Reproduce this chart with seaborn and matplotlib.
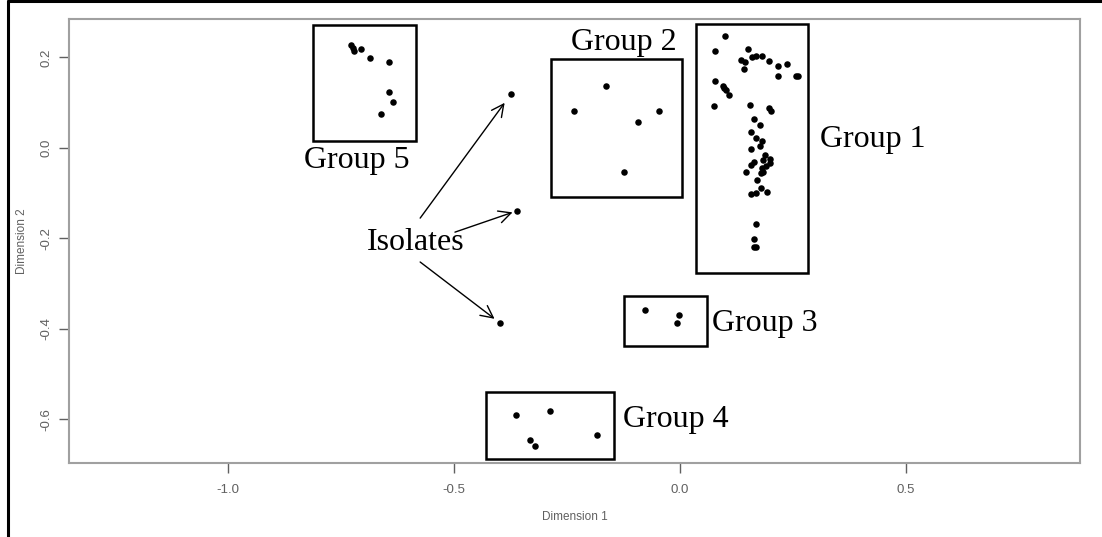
import matplotlib
matplotlib.use("Agg")
import matplotlib.pyplot as plt
import seaborn as sns
import pandas as pd
from matplotlib.patches import Rectangle
from matplotlib.lines import Line2D

# ---- data ----
group1_x = [0.100, 0.078, 0.150, 0.134, 0.144, 0.142, 0.160, 0.167, 0.181, 0.197,
            0.217, 0.236, 0.217, 0.256, 0.260, 0.077, 0.094, 0.098, 0.101, 0.108,
            0.075, 0.155, 0.197, 0.201, 0.163, 0.177, 0.156, 0.167, 0.182, 0.177,
            0.158, 0.187, 0.199, 0.183, 0.164, 0.158, 0.198, 0.190, 0.181, 0.184,
            0.179, 0.146, 0.170, 0.179, 0.156, 0.167, 0.192, 0.169, 0.164, 0.164,
            0.169]
group1_y = [0.248, 0.215, 0.219, 0.194, 0.189, 0.175, 0.201, 0.203, 0.203, 0.192,
            0.181, 0.186, 0.160, 0.158, 0.158, 0.147, 0.137, 0.133, 0.127, 0.116,
            0.092, 0.095, 0.088, 0.081, 0.063, 0.051, 0.036, 0.022, 0.015, 0.005,
            -0.002, -0.015, -0.024, -0.027, -0.030, -0.038, -0.034, -0.039, -0.044, -0.052,
            -0.056, -0.054, -0.071, -0.089, -0.101, -0.100, -0.098, -0.169, -0.201, -0.218,
            -0.218]
group2_x = [-0.163, -0.235, -0.046, -0.094, -0.125]
group2_y = [0.138, 0.082, 0.082, 0.058, -0.052]
group3_x = [-0.077, -0.002, -0.006]
group3_y = [-0.359, -0.370, -0.386]
group4_x = [-0.363, -0.288, -0.332, -0.320, -0.184]
group4_y = [-0.589, -0.581, -0.645, -0.658, -0.635]
group5_x = [-0.727, -0.724, -0.722, -0.706, -0.687, -0.644, -0.644, -0.636, -0.662]
group5_y = [0.228, 0.220, 0.215, 0.219, 0.199, 0.191, 0.123, 0.102, 0.075]
isolate_x = [-0.374, -0.361, -0.398]
isolate_y = [0.119, -0.139, -0.387]

group_names = ["Group 1", "Group 2", "Group 3", "Group 4", "Group 5"]
# box extents: (x0, x1, y0, y1)
group_boxes = [(0.035, 0.284, -0.277, 0.274),
               (-0.285, 0.004, -0.108, 0.196),
               (-0.123, 0.060, -0.438, -0.327),
               (-0.429, -0.145, -0.688, -0.540),
               (-0.813, -0.584, 0.015, 0.272)]
label_pos = [(0.427, 0.018), (-0.124, 0.232), (0.188, -0.387),
             (-0.009, -0.601), (-0.715, -0.027)]
isolates_label = (-0.584, -0.208)
arrow_starts = [(-0.575, -0.155), (-0.498, -0.186), (-0.575, -0.252)]

x_ticks = [-1.0, -0.5, 0.0, 0.5]
y_ticks = [-0.6, -0.4, -0.2, 0.0, 0.2]

# ---- build table ----
frames = []
for name, xs, ys in [("Group 1", group1_x, group1_y), ("Group 2", group2_x, group2_y),
                     ("Group 3", group3_x, group3_y), ("Group 4", group4_x, group4_y),
                     ("Group 5", group5_x, group5_y), ("Isolate", isolate_x, isolate_y)]:
    frames.append(pd.DataFrame({"d1": xs, "d2": ys, "group": name}))
df = pd.concat(frames, ignore_index=True)

sns.set_theme(style="white")
plt.rcParams["font.family"] = ["Liberation Sans", "DejaVu Sans"]

W, H = 1102, 537
fig = plt.figure(figsize=(W / 100, H / 100), dpi=100)
fig.patch.set_facecolor("white")
ax = fig.add_axes([69 / W, (H - 462.7) / H, (1080 - 69) / W, (462.7 - 19) / H])

sns.scatterplot(data=df, x="d1", y="d2", color="black", s=22, linewidth=0,
                ax=ax, legend=False)

ax.set_xlim(-1.352, 0.885)
ax.set_ylim(-0.6955, 0.285)
ax.set_xticks(x_ticks)
ax.set_xticklabels([f"{t:.1f}" for t in x_ticks])
ax.set_yticks(y_ticks)
ax.set_yticklabels([f"{t:.1f}" for t in y_ticks], rotation=90, va="center")

for sp in ax.spines.values():
    sp.set_color("#a0a0a0")
    sp.set_linewidth(1.5)

ax.tick_params(axis="both", which="major", bottom=True, left=True, direction="out",
               length=7, width=1, color="#606060", labelsize=9.5, labelcolor="#606060")
ax.tick_params(axis="x", pad=8)
ax.tick_params(axis="y", pad=5)

ax.set_xlabel("Dimension 1", fontsize=8.5, color="#606060")
ax.set_ylabel("Dimension 2", fontsize=8.5, color="#606060")
ax.xaxis.set_label_coords(0.5, -0.122)
ax.xaxis.label.set_va("center")
ax.yaxis.set_label_coords(-0.046, 0.5)
ax.yaxis.label.set_va("center")

# group boxes and labels
for name, (x0, x1, y0, y1), (lx, ly) in zip(group_names, group_boxes, label_pos):
    ax.add_patch(Rectangle((x0, y0), x1 - x0, y1 - y0, fill=False,
                           edgecolor="black", linewidth=1.8, zorder=3))
    ax.text(lx, ly, name, fontsize=23, family=["Liberation Serif", "DejaVu Serif"],
            ha="center", va="center", color="black")

ax.text(isolates_label[0], isolates_label[1], "Isolates", fontsize=23,
        family=["Liberation Serif", "DejaVu Serif"], ha="center", va="center", color="black")

for (sx, sy), ex, ey in zip(arrow_starts, isolate_x, isolate_y):
    dx, dy = ex - sx, ey - sy
    ax.annotate("", xy=(sx + dx * 0.93, sy + dy * 0.93), xytext=(sx, sy),
                arrowprops=dict(arrowstyle="->", color="black", lw=1,
                                mutation_scale=22, shrinkA=0, shrinkB=0))

# outer image border (top and left)
fig.add_artist(Line2D([7.5 / W, 7.5 / W], [0, 1 - 1.3 / H], transform=fig.transFigure,
                      color="black", lw=2.2))
fig.add_artist(Line2D([7.5 / W, 1], [1 - 1.3 / H, 1 - 1.3 / H], transform=fig.transFigure,
                      color="black", lw=2.2))

fig.savefig("out.png", dpi=100, facecolor="white")
